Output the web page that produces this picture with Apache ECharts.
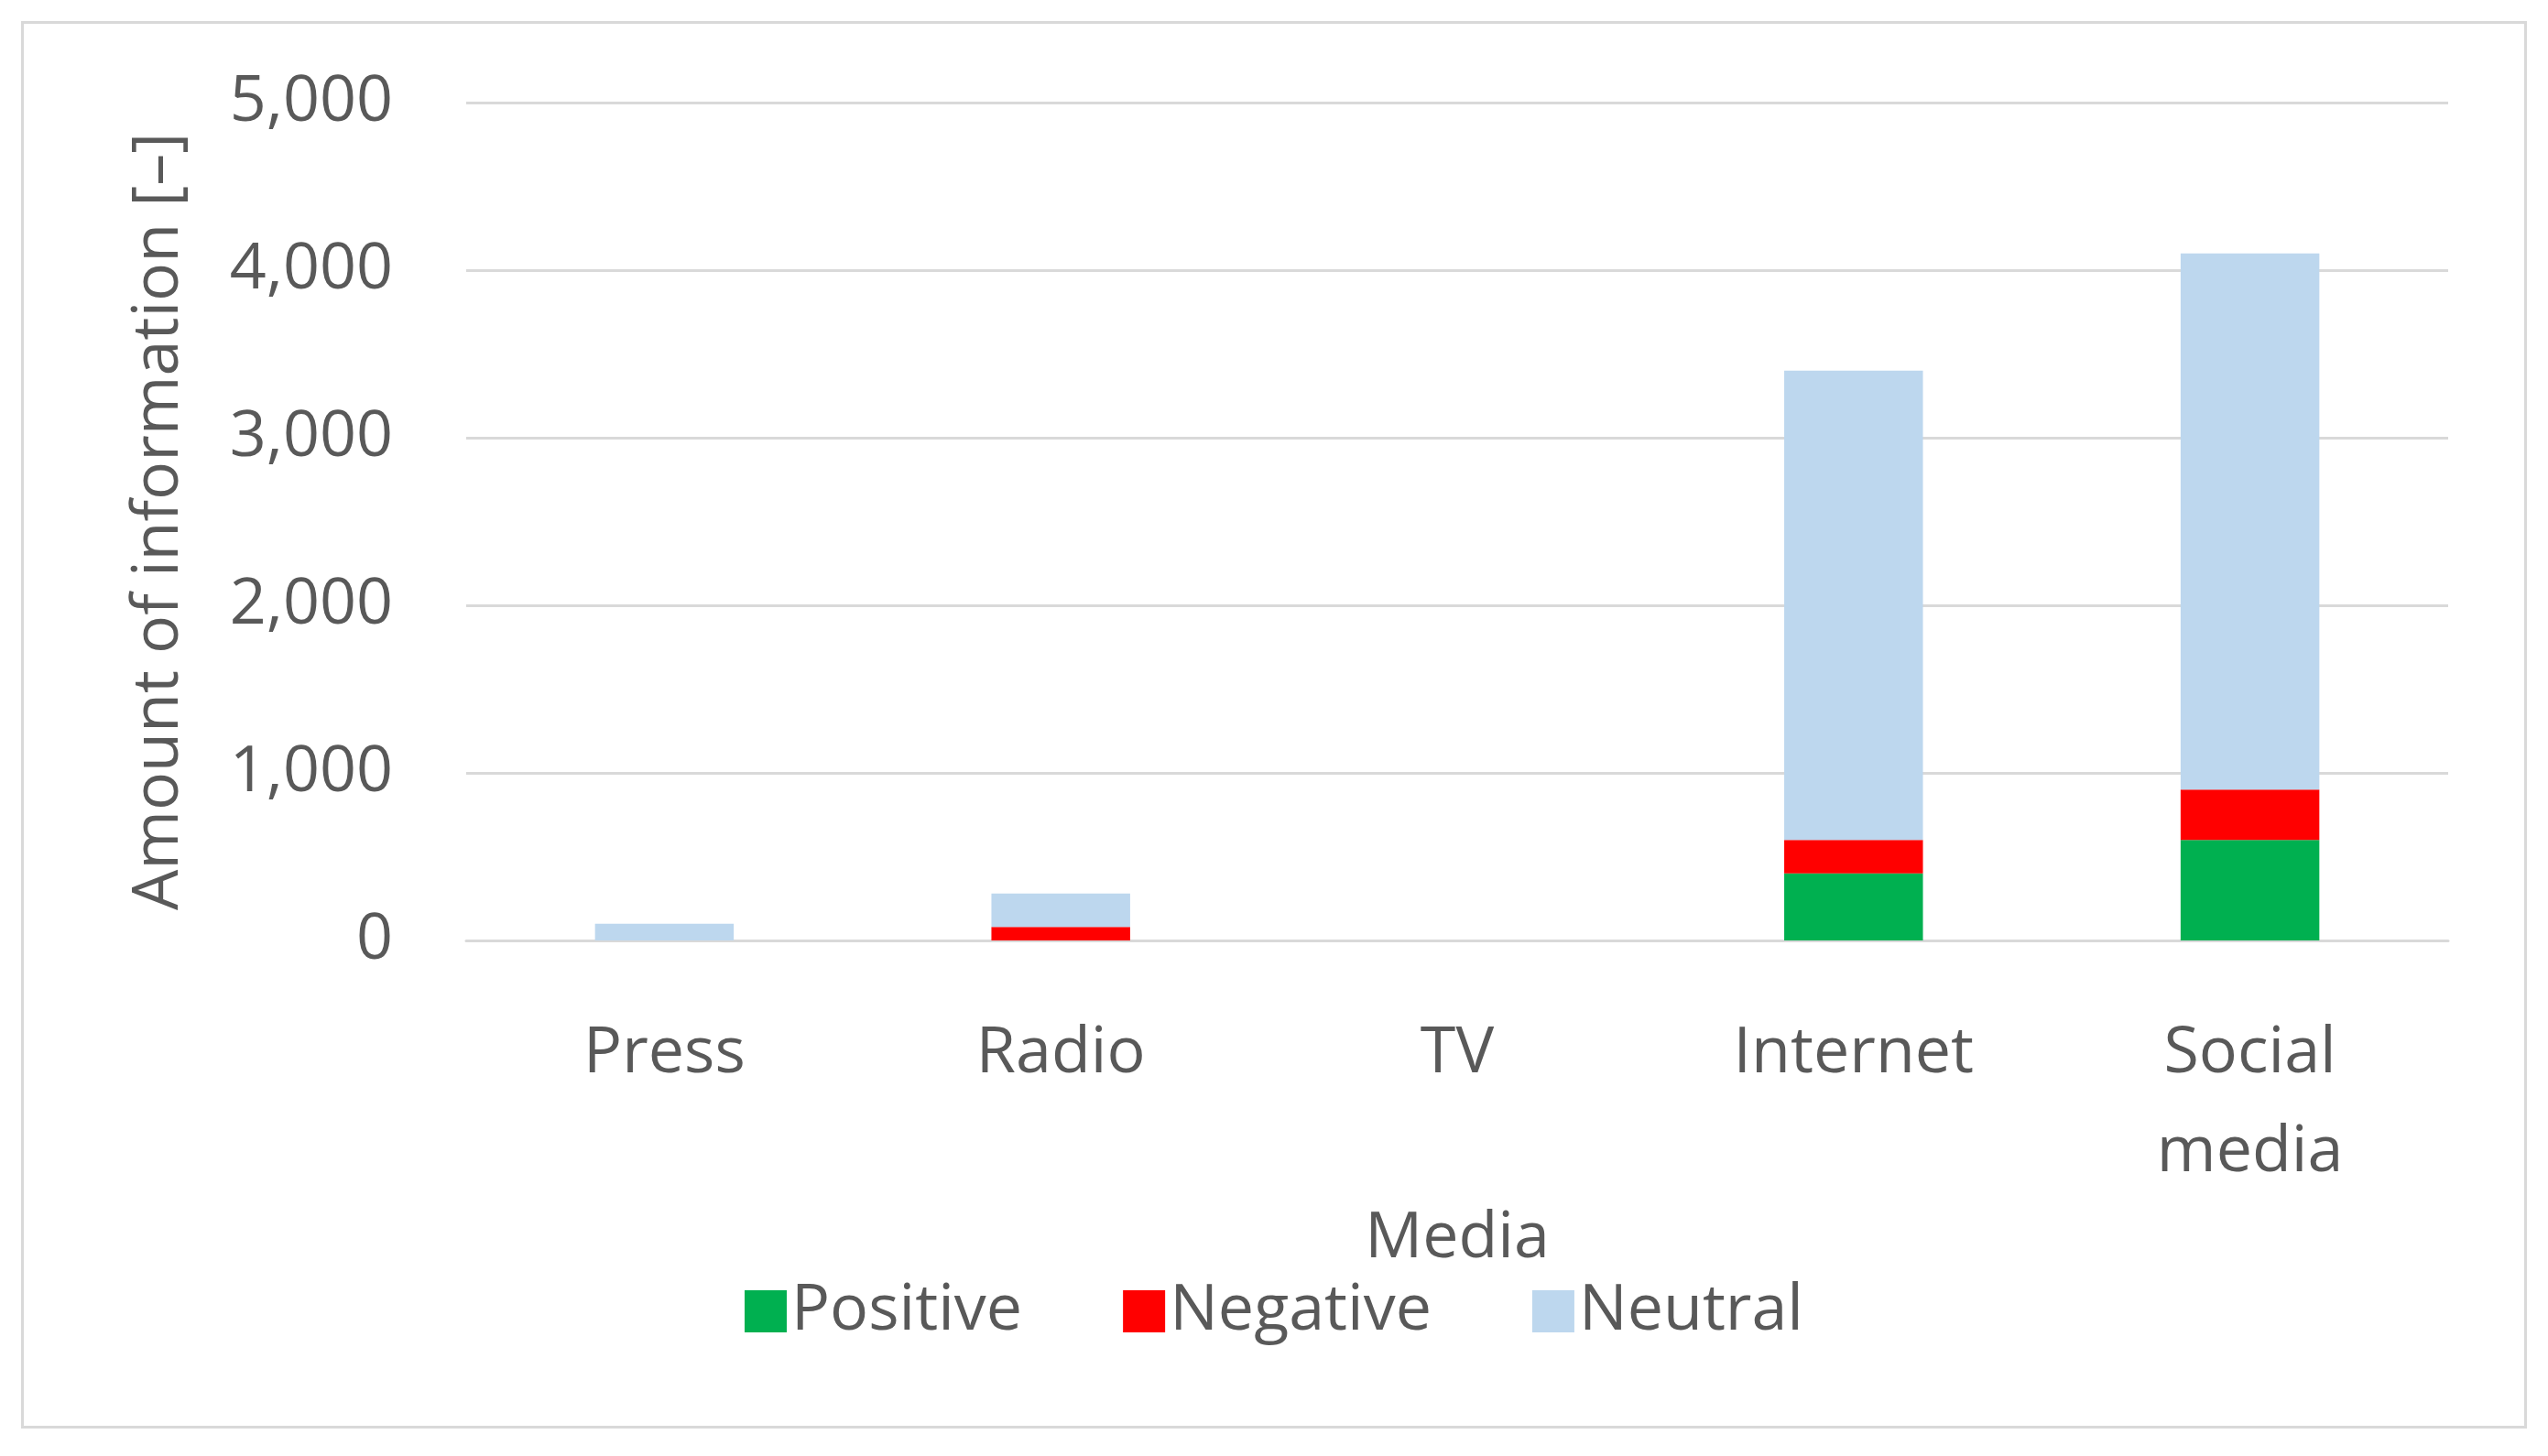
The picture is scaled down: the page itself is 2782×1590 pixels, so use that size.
<!DOCTYPE html>
<html>
<head>
<meta charset="utf-8">
<script src="https://cdn.jsdelivr.net/npm/echarts@6/dist/echarts.min.js"></script>
<style>
  html, body { margin: 0; padding: 0; background: #fff; }
  #frame { position: absolute; left: 23px; top: 23px; width: 2730px; height: 1531px; border: 3px solid #d9d9d9; }
  #chart { width: 2782px; height: 1590px; }
</style>
</head>
<body>
<div id="frame"></div>
<div id="chart"></div>
<script>
  var categories = ['Press', 'Radio', 'TV', 'Internet', 'Social\nmedia'];
  var positive = [0, 0, 0, 400, 600];
  var negative = [0, 80, 0, 200, 300];
  var neutral = [100, 200, 0, 2800, 3200];

  var textColor = '#595959';
  var font = 'Open Sans';

  var chart = echarts.init(document.getElementById('chart'));
  chart.setOption({
    animation: false,
    textStyle: { fontFamily: font },
    grid: { left: 509, right: 109, top: 112, bottom: 563 },
    legend: {
      bottom: 118,
      left: 'center',
      itemWidth: 46,
      itemHeight: 46,
      itemGap: 110,
      icon: 'rect',
      textStyle: { fontSize: 70, color: textColor, fontFamily: font },
      data: ['Positive', 'Negative', 'Neutral']
    },
    xAxis: {
      type: 'category',
      data: categories,
      name: 'Media',
      nameLocation: 'middle',
      nameGap: 265,
      nameTextStyle: { fontSize: 70, color: textColor },
      axisLine: { lineStyle: { color: '#d9d9d9', width: 3 } },
      axisTick: { show: false },
      axisLabel: { fontSize: 70, color: textColor, margin: 70, lineHeight: 108 }
    },
    yAxis: {
      type: 'value',
      min: 0,
      max: 5000,
      interval: 1000,
      name: 'Amount of information [–]',
      nameLocation: 'middle',
      nameGap: 300,
      nameTextStyle: { fontSize: 70, color: textColor },
      axisLine: { show: false },
      axisTick: { show: false },
      axisLabel: { fontSize: 70, color: textColor, margin: 80 },
      splitLine: { lineStyle: { color: '#d9d9d9', width: 3 } }
    },
    series: [
      { name: 'Positive', type: 'bar', stack: 'a', data: positive, barWidth: '35%', itemStyle: { color: '#00B050' } },
      { name: 'Negative', type: 'bar', stack: 'a', data: negative, itemStyle: { color: '#FF0000' } },
      { name: 'Neutral', type: 'bar', stack: 'a', data: neutral, itemStyle: { color: '#BDD7EE' } }
    ]
  });
</script>
</body>
</html>
